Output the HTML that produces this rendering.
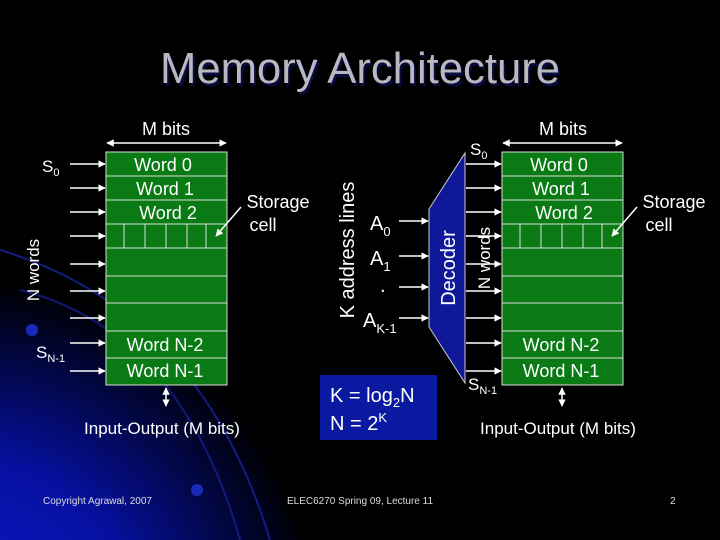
<!DOCTYPE html>
<html><head><meta charset="utf-8"><style>
html,body{margin:0;padding:0;background:#000;}
svg{display:block;font-family:"Liberation Sans",sans-serif;}
</style></head><body>
<svg width="720" height="540" viewBox="0 0 720 540" xmlns="http://www.w3.org/2000/svg">
<defs>
<radialGradient id="bg" cx="-40" cy="640" r="360" gradientUnits="userSpaceOnUse">
<stop offset="0" stop-color="#0a1ad0"/><stop offset="0.5" stop-color="#0610a0"/><stop offset="0.8" stop-color="#020640"/><stop offset="1" stop-color="#000"/>
</radialGradient>
<marker id="ah" viewBox="0 0 10 10" refX="9" refY="5" markerWidth="5" markerHeight="5" orient="auto-start-reverse"><path d="M0,0L10,5L0,10z" fill="#fff"/></marker>
</defs>
<rect width="720" height="540" fill="#000"/>
<rect width="720" height="540" fill="url(#bg)"/>
<path d="M0,250 Q200,310 270,540" stroke="#1a2ab0" stroke-width="2" fill="none" opacity="0.7"/>
<path d="M20,290 Q180,330 240,540" stroke="#1a2ab0" stroke-width="2" fill="none" opacity="0.6"/>
<circle cx="32" cy="330" r="6" fill="#1a2ab8"/><circle cx="197" cy="490" r="6" fill="#1a2ab8"/>
<text x="360" y="83" text-anchor="middle" font-size="44" fill="#0a0a40" textLength="400" lengthAdjust="spacingAndGlyphs" transform="translate(2,3)">Memory Architecture</text>
<text x="360" y="83" text-anchor="middle" font-size="44" fill="#b8b8c0" textLength="400" lengthAdjust="spacingAndGlyphs">Memory Architecture</text>

<g fill="#fff" font-size="18">
<!-- LEFT -->
<text x="166" y="135" text-anchor="middle">M bits</text>
<line x1="107" y1="143" x2="226" y2="143" stroke="#fff" stroke-width="1.5" marker-start="url(#ah)" marker-end="url(#ah)"/>
<rect x="106" y="152" width="121" height="233" fill="#0a7a14" stroke="#ddd" stroke-width="1"/>
<g stroke="#ddd" stroke-width="1">
<line x1="106" y1="176" x2="227" y2="176"/><line x1="106" y1="200" x2="227" y2="200"/><line x1="106" y1="224" x2="227" y2="224"/><line x1="106" y1="248" x2="227" y2="248"/><line x1="106" y1="276" x2="227" y2="276"/><line x1="106" y1="303" x2="227" y2="303"/><line x1="106" y1="331" x2="227" y2="331"/><line x1="106" y1="358" x2="227" y2="358"/>
<line x1="124" y1="224" x2="124" y2="248"/><line x1="145" y1="224" x2="145" y2="248"/><line x1="166" y1="224" x2="166" y2="248"/><line x1="187" y1="224" x2="187" y2="248"/><line x1="206" y1="224" x2="206" y2="248"/>
</g>
<text x="163" y="171" text-anchor="middle">Word 0</text>
<text x="165" y="195" text-anchor="middle">Word 1</text>
<text x="168" y="219" text-anchor="middle">Word 2</text>
<text x="165" y="351" text-anchor="middle">Word N-2</text>
<text x="165" y="377" text-anchor="middle">Word N-1</text>
<g stroke="#fff" stroke-width="1.5" marker-end="url(#ah)">
<line x1="70" y1="164" x2="105" y2="164"/><line x1="70" y1="188" x2="105" y2="188"/><line x1="70" y1="212" x2="105" y2="212"/><line x1="70" y1="236" x2="105" y2="236"/><line x1="70" y1="264" x2="105" y2="264"/><line x1="70" y1="291" x2="105" y2="291"/><line x1="70" y1="318" x2="105" y2="318"/><line x1="70" y1="343" x2="105" y2="343"/><line x1="70" y1="371" x2="105" y2="371"/>
<line x1="166" y1="388" x2="166" y2="406" marker-start="url(#ah)"/>
<line x1="241" y1="207" x2="216" y2="236"/>
</g>
<text x="42" y="172" font-size="17">S<tspan font-size="11" dy="4">0</tspan></text>
<text x="36" y="358" font-size="17">S<tspan font-size="11" dy="4">N-1</tspan></text>
<text transform="translate(39,270) rotate(-90)" text-anchor="middle" font-size="17">N words</text>
<text x="278" y="208" text-anchor="middle">Storage</text>
<text x="263" y="231" text-anchor="middle">cell</text>
<text x="162" y="434" text-anchor="middle" font-size="17">Input-Output (M bits)</text>

<!-- MIDDLE -->
<text transform="translate(354,250) rotate(-90)" text-anchor="middle" font-size="20">K address lines</text>
<rect x="320" y="375" width="117" height="65" fill="#0a1aa0"/>
<text x="330" y="402" font-size="20">K = log<tspan font-size="13" dy="5">2</tspan><tspan dy="-5">N</tspan></text>
<text x="330" y="430" font-size="20">N = 2<tspan font-size="13" dy="-8">K</tspan></text>
<polygon points="429,209 465,153 465,383 429,327" fill="#10189a" stroke="#ccc" stroke-width="1"/>
<text transform="translate(455,268) rotate(-90)" text-anchor="middle" font-size="20">Decoder</text>
<g stroke="#fff" stroke-width="1.5" marker-end="url(#ah)">
<line x1="399" y1="221" x2="428" y2="221"/><line x1="399" y1="256" x2="428" y2="256"/><line x1="399" y1="287" x2="428" y2="287"/><line x1="399" y1="318" x2="428" y2="318"/>
</g>
<text x="370" y="230" font-size="20">A<tspan font-size="13" dy="6">0</tspan></text>
<text x="370" y="265" font-size="20">A<tspan font-size="13" dy="6">1</tspan></text>
<text x="380" y="292" font-size="20">.</text>
<text x="363" y="327" font-size="20">A<tspan font-size="13" dy="6">K-1</tspan></text>

<!-- RIGHT -->
<text x="563" y="135" text-anchor="middle">M bits</text>
<line x1="503" y1="143" x2="622" y2="143" stroke="#fff" stroke-width="1.5" marker-start="url(#ah)" marker-end="url(#ah)"/>
<rect x="502" y="152" width="121" height="233" fill="#0a7a14" stroke="#ddd" stroke-width="1"/>
<g stroke="#ddd" stroke-width="1">
<line x1="502" y1="176" x2="623" y2="176"/><line x1="502" y1="200" x2="623" y2="200"/><line x1="502" y1="224" x2="623" y2="224"/><line x1="502" y1="248" x2="623" y2="248"/><line x1="502" y1="276" x2="623" y2="276"/><line x1="502" y1="303" x2="623" y2="303"/><line x1="502" y1="331" x2="623" y2="331"/><line x1="502" y1="358" x2="623" y2="358"/>
<line x1="520" y1="224" x2="520" y2="248"/><line x1="541" y1="224" x2="541" y2="248"/><line x1="562" y1="224" x2="562" y2="248"/><line x1="583" y1="224" x2="583" y2="248"/><line x1="602" y1="224" x2="602" y2="248"/>
</g>
<text x="559" y="171" text-anchor="middle">Word 0</text>
<text x="561" y="195" text-anchor="middle">Word 1</text>
<text x="564" y="219" text-anchor="middle">Word 2</text>
<text x="561" y="351" text-anchor="middle">Word N-2</text>
<text x="561" y="377" text-anchor="middle">Word N-1</text>
<g stroke="#fff" stroke-width="1.5" marker-end="url(#ah)">
<line x1="466" y1="164" x2="501" y2="164"/><line x1="466" y1="188" x2="501" y2="188"/><line x1="466" y1="212" x2="501" y2="212"/><line x1="466" y1="236" x2="501" y2="236"/><line x1="466" y1="264" x2="501" y2="264"/><line x1="466" y1="291" x2="501" y2="291"/><line x1="466" y1="318" x2="501" y2="318"/><line x1="466" y1="343" x2="501" y2="343"/><line x1="466" y1="371" x2="501" y2="371"/>
<line x1="562" y1="388" x2="562" y2="406" marker-start="url(#ah)"/>
<line x1="637" y1="207" x2="612" y2="236"/>
</g>
<text x="470" y="155" font-size="17">S<tspan font-size="11" dy="4">0</tspan></text>
<text x="468" y="390" font-size="17">S<tspan font-size="11" dy="4">N-1</tspan></text>
<text transform="translate(490,258) rotate(-90)" text-anchor="middle" font-size="17">N words</text>
<text x="674" y="208" text-anchor="middle">Storage</text>
<text x="659" y="231" text-anchor="middle">cell</text>
<text x="558" y="434" text-anchor="middle" font-size="17">Input-Output (M bits)</text>
</g>

<g fill="#ddd" font-size="10">
<text x="43" y="504">Copyright Agrawal, 2007</text>
<text x="287" y="504">ELEC6270 Spring 09, Lecture 11</text>
<text x="670" y="504">2</text>
</g>
</svg>
</body></html>
